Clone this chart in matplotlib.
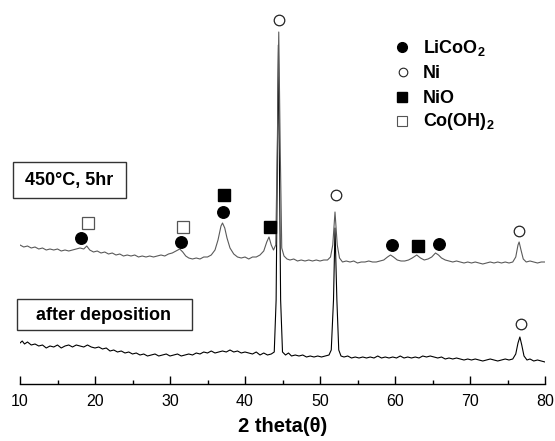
import matplotlib
matplotlib.use('Agg')
import matplotlib.pyplot as plt
from matplotlib.patches import Rectangle
from matplotlib.ticker import MultipleLocator

plt.rcParams['font.family'] = ['Liberation Sans', 'DejaVu Sans']
plt.rcParams['mathtext.fontset'] = 'custom'
plt.rcParams['mathtext.rm'] = 'Liberation Sans'
plt.rcParams['mathtext.bf'] = 'Liberation Sans:bold'

# ---------------- data (intensity in arbitrary units) ----------------
two_theta_annealed = [
    10.0, 10.5, 11.0, 11.5, 12.0, 12.5, 13.0, 13.5, 14.0, 14.5, 15.0, 15.5, 16.0, 16.5,
    17.0, 17.5, 18.0, 18.5, 18.9, 19.3, 19.8, 20.3, 20.8, 21.3, 21.8, 22.3, 22.8, 23.3,
    23.8, 24.3, 24.8, 25.3, 25.8, 26.3, 26.8, 27.3, 27.8, 28.3, 28.8, 29.3, 29.8, 30.3,
    30.8, 31.3, 31.7, 32.1, 32.5, 33.0, 33.5, 34.0, 34.5, 35.0, 35.5, 36.0, 36.4, 36.8,
    37.0, 37.3, 37.6, 38.0, 38.5, 39.0, 39.5, 40.0, 40.5, 41.0, 41.5, 42.0, 42.5, 42.9,
    43.2, 43.5, 43.8, 44.1, 44.3, 44.5, 44.7, 44.9, 45.2, 45.6, 46.0, 46.5, 47.0, 47.5,
    48.0, 48.5, 49.0, 49.5, 50.0, 50.5, 51.0, 51.4, 51.7, 52.0, 52.3, 52.6, 53.0, 53.5,
    54.0, 54.5, 55.0, 55.5, 56.0, 56.5, 57.0, 57.5, 58.0, 58.5, 59.0, 59.4, 59.8, 60.3,
    60.8, 61.3, 61.8, 62.3, 62.9, 63.4, 63.9, 64.4, 64.9, 65.4, 65.8, 66.2, 66.7, 67.2,
    67.7, 68.2, 68.7, 69.2, 69.7, 70.2, 70.7, 71.2, 71.7, 72.2, 72.7, 73.2, 73.7, 74.2,
    74.7, 75.2, 75.7, 76.1, 76.4, 76.55, 76.8, 77.1, 77.5, 78.0, 78.5, 79.0, 79.5, 80.0]
intensity_annealed = [
    139, 137, 138, 136, 137, 135, 136, 134, 135, 134, 135, 133, 134, 133,
    134, 135, 136, 135, 138, 134, 132, 133, 131, 132, 130, 131, 129, 130,
    128, 129, 128, 129, 127, 128, 127, 128, 127, 128, 129, 128, 130, 131,
    133, 135, 132, 128, 126, 125, 126, 125, 127, 127, 129, 134, 144, 158,
    161, 156, 146, 136, 130, 127, 126, 127, 125, 127, 127, 129, 133, 142,
    147, 139, 134, 139, 234, 352, 234, 136, 128, 125, 124, 125, 123, 124,
    123, 124, 123, 124, 123, 124, 124, 127, 139, 172, 139, 126, 122, 123,
    122, 123, 121, 122, 122, 123, 122, 122, 123, 124, 127, 129, 127, 124,
    123, 123, 124, 126, 129, 126, 124, 125, 127, 131, 129, 126, 124, 123,
    122, 123, 122, 121, 122, 121, 122, 121, 120, 121, 122, 121, 122, 121,
    122, 121, 122, 127, 139, 142, 134, 125, 122, 123, 122, 121, 122, 122]

two_theta_deposited = [
    10.0, 10.3, 10.6, 11.0, 11.5, 12.0, 12.5, 13.0, 13.5, 14.0, 14.5, 15.0, 15.5, 16.0,
    16.5, 17.0, 17.5, 18.0, 18.5, 19.0, 19.5, 20.0, 20.5, 21.0, 21.5, 22.0, 22.5, 23.0,
    23.5, 24.0, 24.5, 25.0, 25.5, 26.0, 26.5, 27.0, 27.5, 28.0, 28.5, 29.0, 29.5, 30.0,
    30.5, 31.0, 31.5, 32.0, 32.5, 33.0, 33.5, 34.0, 34.5, 35.0, 35.5, 36.0, 36.5, 37.0,
    37.5, 38.0, 38.5, 39.0, 39.5, 40.0, 40.5, 41.0, 41.5, 42.0, 42.5, 43.0, 43.5, 43.9,
    44.15, 44.45, 44.75, 45.0, 45.4, 45.8, 46.2, 46.7, 47.2, 47.7, 48.2, 48.7, 49.2, 49.7,
    50.2, 50.7, 51.2, 51.5, 51.8, 52.0, 52.25, 52.5, 52.8, 53.2, 53.7, 54.2, 54.7, 55.2,
    55.7, 56.2, 56.7, 57.2, 57.7, 58.2, 58.7, 59.2, 59.7, 60.2, 60.7, 61.2, 61.7, 62.2,
    62.7, 63.2, 63.7, 64.2, 64.7, 65.2, 65.7, 66.2, 66.7, 67.2, 67.7, 68.2, 68.7, 69.2,
    69.7, 70.2, 70.7, 71.2, 71.7, 72.2, 72.7, 73.2, 73.7, 74.2, 74.7, 75.2, 75.7, 76.1,
    76.4, 76.65, 76.9, 77.2, 77.6, 78.0, 78.5, 79.0, 79.5, 80.0]
intensity_deposited = [
    41, 43, 40, 42, 39, 40, 38, 39, 36, 38, 37, 39, 36, 38,
    39, 37, 39, 38, 37, 39, 37, 36, 37, 35, 36, 33, 34, 32,
    33, 31, 32, 30, 31, 29, 30, 28, 29, 30, 28, 29, 30, 28,
    29, 30, 28, 29, 30, 29, 31, 30, 32, 31, 33, 31, 32, 33,
    32, 34, 32, 33, 31, 32, 31, 30, 32, 29, 31, 29, 30, 32,
    84, 339, 84, 32, 29, 31, 28, 29, 28, 29, 27, 28, 27, 28,
    27, 28, 29, 34, 84, 156, 84, 34, 28, 27, 28, 26, 27, 26,
    27, 26, 27, 26, 28, 26, 27, 26, 27, 26, 28, 26, 27, 26,
    27, 26, 28, 27, 28, 27, 26, 27, 25, 26, 25, 26, 25, 24,
    25, 24, 25, 24, 23, 24, 25, 24, 23, 24, 25, 24, 25, 30,
    41, 47, 39, 28, 24, 25, 23, 24, 23, 22]

# phase markers (2theta, intensity)
licoo2_x = [18.1, 31.4, 37.1, 59.6, 65.9]
licoo2_y = [146, 142, 172, 139, 140]
ni_x = [44.55, 52.1, 76.5, 76.8]
ni_y = [364, 189, 153, 60]
nio_x = [37.2, 43.35, 63.1]
nio_y = [189, 157, 138]
coh2_x = [19.0, 31.7]
coh2_y = [161, 157]

legend_labels = ['LiCoO$_\\mathbf{2}$', 'Ni', 'NiO', 'Co(OH)$_\\mathbf{2}$']
sample_labels = ['450°C, 5hr', 'after deposition']

# ---------------- figure ----------------
W, H = 555, 441
fig = plt.figure(figsize=(W / 100, H / 100), dpi=100)
ax = fig.add_axes([20 / W, 57 / H, 525 / W, 384 / H])
ax.set_xlim(10, 80)
ax.set_ylim(0, 384)

ax.plot(two_theta_deposited, intensity_deposited, color='black', lw=0.8)
ax.plot(two_theta_annealed, intensity_annealed, color='#5a5a5a', lw=0.8)

ax.plot(licoo2_x, licoo2_y, 'o', ms=8.3, color='black', ls='none')
ax.plot(ni_x, ni_y, 'o', ms=7.6, mfc='white', mec='#222222', mew=0.9, ls='none')
ax.plot(nio_x, nio_y, 's', ms=8.8, color='black', ls='none')
ax.plot(coh2_x, coh2_y, 's', ms=8.3, mfc='white', mec='#555555', mew=0.9, ls='none')

# legend (manual)
leg_marker_x = 60.9
leg_text_x = 63.7
leg_marker_y = [337.3, 312.3, 287.3, 263.3]
leg_text_y = [330.7, 305.5, 280.7, 257.5]
ax.plot(leg_marker_x, leg_marker_y[0], 'o', ms=7.0, color='black', clip_on=False)
ax.plot(leg_marker_x + 0.1, leg_marker_y[1], 'o', ms=6.2, mfc='white', mec='#222222', mew=0.8, clip_on=False)
ax.plot(leg_marker_x, leg_marker_y[2], 's', ms=7.4, color='black', clip_on=False)
ax.plot(leg_marker_x, leg_marker_y[3], 's', ms=7.4, mfc='white', mec='#555555', mew=0.8, clip_on=False)
for lab, ty in zip(legend_labels, leg_text_y):
    ax.text(leg_text_x, ty, lab, fontsize=13, fontweight='bold', ha='left', va='baseline')

# sample label boxes
ax.add_patch(Rectangle((9.11, 185.7), 24.09 - 9.11, 221.7 - 185.7, fill=False,
                       ec='#333333', lw=1.0, clip_on=False))
ax.text(16.6, 203.7, sample_labels[0], fontsize=13, fontweight='bold', ha='center', va='center')
ax.add_patch(Rectangle((9.64, 54.0), 32.89 - 9.64, 84.7 - 54.0, fill=False,
                       ec='#333333', lw=1.0, clip_on=False))
ax.text(21.2, 68.5, sample_labels[1], fontsize=13, fontweight='bold', ha='center', va='center')

# axes styling
for s in ['left', 'right', 'top']:
    ax.spines[s].set_visible(False)
ax.spines['bottom'].set_linewidth(1.0)
ax.set_yticks([])
ax.set_xticks([10, 20, 30, 40, 50, 60, 70, 80])
ax.xaxis.set_minor_locator(MultipleLocator(5))
ax.tick_params(axis='x', which='major', direction='in', length=6, width=1.0, pad=7, labelsize=11.5)
ax.tick_params(axis='x', which='minor', direction='in', length=3, width=1.0)

fig.text(282.5 / W, 1 - 427 / H, '2 theta(θ)', fontsize=14.5, fontweight='bold',
         ha='center', va='center')

fig.savefig('out.png', dpi=100)
